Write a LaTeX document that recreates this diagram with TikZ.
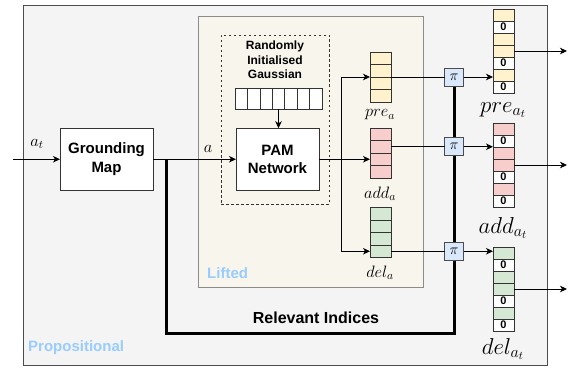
\RequirePackage{fix-cm}
\documentclass[tikz,border=0pt]{standalone}
\usepackage{fontspec}
\setmainfont{Liberation Sans}
\usetikzlibrary{arrows.meta}
\definecolor{propfill}{HTML}{F4F4F4}
\definecolor{liftfill}{HTML}{F8F5ED}
\definecolor{yel}{HTML}{FFF2CC}
\definecolor{pnk}{HTML}{F8CECC}
\definecolor{grn}{HTML}{D5E8D4}
\definecolor{pib}{HTML}{DAE8FC}
\definecolor{lbl}{HTML}{99CCFF}
\tikzset{
  arr/.style={-{Stealth[length=7pt,width=6.5pt,inset=2pt]}, line width=0.8pt},
  conn/.style={line width=0.8pt},
  region/.style={inner sep=0, outer sep=0, line width=0.8pt},
  procbox/.style={draw=black!80, fill=white, line width=0.8pt, inner sep=0, outer sep=0, align=center, font=\bfseries\fontsize{15}{18.5}\selectfont},
  vcell/.style={draw=black!80, line width=0.7pt, minimum width=21pt, minimum height=12.5pt, inner sep=0, outer sep=0},
  ocell/.style={draw=black!80, line width=0.7pt, minimum width=21pt, minimum height=12pt, inner sep=0, outer sep=0, font=\bfseries\fontsize{11}{12}\selectfont},
  gcell/.style={draw=black!80, fill=white, line width=0.7pt, minimum width=12.43pt, minimum height=21pt, inner sep=0, outer sep=0},
  pibox/.style={draw=black!70, fill=pib, line width=0.8pt, minimum width=19pt, minimum height=18pt, inner sep=0, outer sep=0, font=\fontsize{15}{16}\selectfont},
  mlab/.style={inner sep=0, font=\fontsize{16.5}{19}\selectfont},
  blab/.style={inner sep=0, font=\fontsize{23}{27}\selectfont},
  reglab/.style={inner sep=0, anchor=west, text=lbl, font=\bfseries\fontsize{15}{18}\selectfont},
}
\begin{document}
\begin{tikzpicture}[x=1pt,y=-1pt]
\useasboundingbox (0,0) rectangle (576,369);
% regions
\node[region, draw=black!70, fill=propfill, minimum width=524pt, minimum height=360pt] (prop) at (285,185) {};
\node[region, draw=black!45, fill=liftfill, minimum width=225pt, minimum height=271pt] (lift) at (310.5,151.5) {};
\node[region, draw=black!80, dashed, dash pattern=on 2.5pt off 2.5pt, line width=0.6pt, minimum width=108pt, minimum height=169pt] (gbox) at (275,119.5) {};
\node[reglab] (proplbl) at (28,348) {Propositional};
\node[reglab] (liftlbl) at (207,273) {Lifted};

% relevant indices thick line
\coordinate (rel) at (166,159);
\coordinate (relb) at (166,333);
\coordinate (pc1) at (454,77);
\draw[line width=3pt] (rel) -- (relb) -| (pc1);
\node[inner sep=0, font=\bfseries\fontsize{16}{19}\selectfont] (relt) at (316,318) {Relevant Indices};

% boxes
\node[procbox, minimum width=93pt, minimum height=62pt] (gm) at (106.5,159) {Grounding\\Map};
\node[procbox, minimum width=83pt, minimum height=62pt] (pam) at (277.5,159.25) {PAM\\Network};
\node[inner sep=0, align=center, font=\bfseries\fontsize{12}{14.5}\selectfont] (rig) at (275,60) {Randomly\\Initialised\\Gaussian};
\foreach \i in {1,...,7} \node[gcell] (g\i) at ({235+12.43*(\i-0.5)}, 98.5) {};
\draw[arr] (g4.south) -- (g4.south |- pam.north);

% inputs
\coordinate (in) at (13,159.25);
\draw[arr] (in) -- (gm.west |- in);
\node[mlab] (atl) at (37,144) {$a_t$};
\draw[arr] (gm.east |- pam.west) -- (pam.west);
\node[mlab] (al) at (208,149) {$a$};

% lifted vectors
\foreach \i in {1,...,4} {
  \node[vcell, fill=yel] (prea\i) at (380.5, {52+12.5*(\i-0.5)}) {};
  \node[vcell, fill=pnk] (adda\i) at (380.5, {128+12.5*(\i-0.5)}) {};
  \node[vcell, fill=grn] (dela\i) at (380.5, {207.5+12.5*(\i-0.5)}) {};
}
\node[mlab] (preal) at (380,115) {$pre_a$};
\node[mlab] (addal) at (380,194) {$add_a$};
\node[mlab] (delal) at (380,273) {$del_a$};

\coordinate (br) at (341,159.25);
\draw[arr] (pam.east) -- (adda3.west);
\draw[arr] (br) |- (prea2.south west);
\draw[arr] (br) |- (dela4.west);

% pi nodes
\node[pibox] (pi1) at (454,77) {$\pi$};
\node[pibox] (pi2) at (454,146.75) {$\pi$};
\node[pibox] (pi3) at (454,251.25) {$\pi$};
\draw[conn] (prea2.south east) -- (pi1);
\draw[conn] (adda2.east) -- (pi2);
\draw[conn] (dela4.east) -- (pi3);

% propositional vectors
\foreach \i in {1,...,7} {
  \node[ocell, fill=yel] (preat\i) at (503.5, {9+12*(\i-0.5)}) {};
  \node[ocell, fill=pnk] (addat\i) at (503.5, {123+12*(\i-0.5)}) {};
  \node[ocell, fill=grn] (delat\i) at (503.5, {247+12*(\i-0.5)}) {};
}
\foreach \i in {2,5,7} {
  \node[ocell, fill=white] (preatz\i) at (preat\i) {0};
  \node[ocell, fill=white] (addatz\i) at (addat\i) {0};
  \node[ocell, fill=white] (delatz\i) at (delat\i) {0};
}
\node[blab] (preatl) at (503,110) {$pre_{a_t}$};
\node[blab] (addatl) at (503,228) {$add_{a_t}$};
\node[blab] (delatl) at (503,349) {$del_{a_t}$};

\draw[arr] (pi1) -- (pi1 -| preat1.west);
\draw[arr] (pi2) -- (pi2 -| addat1.west);
\draw[arr] (pi3) -- (pi3 -| delat1.west);

\coordinate (o1) at (567,51);
\coordinate (o2) at (567,165);
\coordinate (o3) at (567,289);
\draw[arr] (preat4.east) -- (o1);
\draw[arr] (addat4.east) -- (o2);
\draw[arr] (delat4.east) -- (o3);
\end{tikzpicture}
\end{document}
